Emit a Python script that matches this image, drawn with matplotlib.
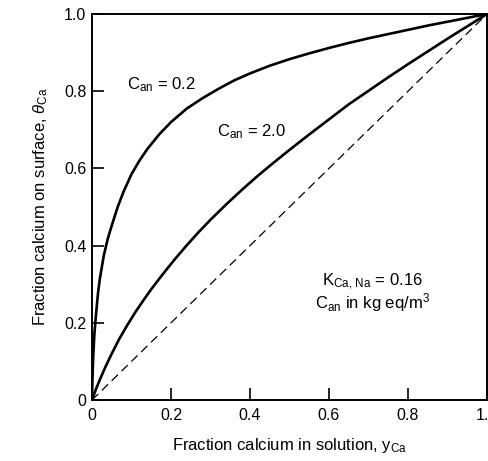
import matplotlib
matplotlib.use("Agg")
import matplotlib.pyplot as plt

plt.rcParams['font.family'] = ['Liberation Sans', 'DejaVu Sans']
plt.rcParams['mathtext.fontset'] = 'custom'
plt.rcParams['mathtext.rm'] = 'Liberation Sans'
plt.rcParams['mathtext.it'] = 'Liberation Sans:italic'

# values
y_low = [0, 0.001, 0.003, 0.006, 0.01, 0.015, 0.02, 0.03, 0.04, 0.05, 0.065, 0.08,
         0.1, 0.12, 0.14, 0.17, 0.2, 0.24, 0.28, 0.32, 0.36, 0.4, 0.45, 0.5, 0.55,
         0.6, 0.65, 0.7, 0.75, 0.8, 0.85, 0.9, 0.95, 1.0]
theta_low = [0, 0.05, 0.11, 0.17, 0.22, 0.275, 0.315, 0.375, 0.418, 0.452, 0.5, 0.54,
             0.585, 0.62, 0.65, 0.688, 0.72, 0.755, 0.782, 0.806, 0.828, 0.846, 0.866,
             0.883, 0.898, 0.912, 0.925, 0.937, 0.948, 0.959, 0.97, 0.98, 0.99, 1.0]

y_high = [0, 0.01, 0.02, 0.035, 0.05, 0.07, 0.09, 0.11, 0.13, 0.15, 0.18, 0.21, 0.24,
          0.27, 0.3, 0.34, 0.38, 0.42, 0.46, 0.5, 0.55, 0.6, 0.65, 0.7, 0.75, 0.8,
          0.85, 0.9, 0.95, 1.0]
theta_high = [0, 0.028, 0.053, 0.088, 0.12, 0.16, 0.195, 0.228, 0.258, 0.287, 0.327,
              0.365, 0.401, 0.435, 0.467, 0.507, 0.545, 0.581, 0.615, 0.648, 0.688,
              0.727, 0.766, 0.801, 0.836, 0.87, 0.903, 0.936, 0.968, 1.0]

diag = [0, 1]

xticks = [0, 0.2, 0.4, 0.6, 0.8, 1.0]
xticklabels = ['0', '0.2', '0.4', '0.6', '0.8', '1.0']
yticks = [0, 0.2, 0.4, 0.6, 0.8, 1.0]
yticklabels = ['0', '0.2', '0.4', '0.6', '0.8', '1.0']

fig = plt.figure(figsize=(4.88, 4.61), dpi=100)
ax = fig.add_axes([92 / 488, 61 / 461, 395 / 488, 386 / 461])

ax.plot(y_low, theta_low, color='black', lw=1.9, solid_capstyle='butt')
ax.plot(y_high, theta_high, color='black', lw=1.9, solid_capstyle='butt')
ax.plot(diag, diag, color='black', lw=0.9, dashes=(7, 4))

ax.set_xlim(0, 1)
ax.set_ylim(0, 1)
ax.set_xticks(xticks)
ax.set_xticklabels(xticklabels)
ax.set_yticks(yticks)
ax.set_yticklabels(yticklabels)
ax.tick_params(direction='in', length=8.5, width=1.2, labelsize=11.5, pad=4)
ax.tick_params(axis='x', pad=6)

for s in ax.spines.values():
    s.set_linewidth(1.4)

ax.text(0.089, 0.816, r'C$_{\rm an}$ = 0.2', fontsize=12, va='center', ha='left')
ax.text(0.316, 0.694, r'C$_{\rm an}$ = 2.0', fontsize=12, va='center', ha='left')
ax.text(0.709, 0.306, r'K$_{\rm Ca,\,Na}$ = 0.16', fontsize=12, va='center', ha='center')
ax.text(0.709, 0.252, r'C$_{\rm an}$ in kg eq/m$^3$', fontsize=12, va='center', ha='center')

ax.set_xlabel(r'Fraction calcium in solution, y$_{\rm Ca}$', fontsize=12, labelpad=9)
ax.set_ylabel(r'Fraction calcium on surface, $\it{\theta}$$_{\rm Ca}$', fontsize=12,
              labelpad=10)

fig.savefig('out.png', dpi=100)
